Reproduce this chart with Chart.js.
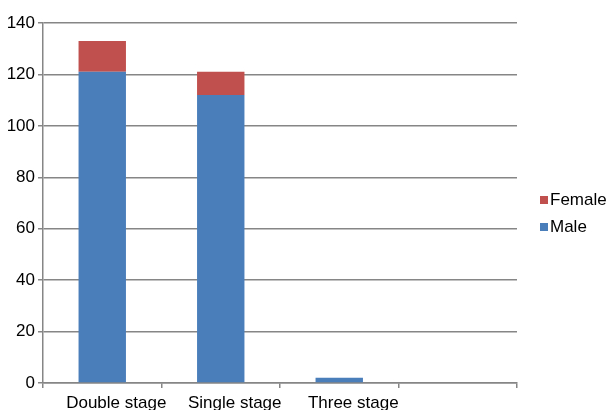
<!DOCTYPE html>
<html><head><meta charset="utf-8">
<script src="https://cdn.jsdelivr.net/npm/chart.js@4"></script>
<style>html,body{margin:0;padding:0;background:#fff}#wrap{width:612px;height:410px}</style>
</head><body><div id="wrap"><canvas id="c" width="612" height="410"></canvas></div>
<script>
const categories = ["Double stage", "Single stage", "Three stage", ""];
const maleValues = [121, 112, 2, null];
const femaleValues = [12, 9, 0, null];
const yTicks = [0, 20, 40, 60, 80, 100, 120, 140];

const FONT = '"Liberation Sans", Arial, sans-serif';

const legendPlugin = {
  id: 'sideLegend',
  afterDraw(chart) {
    const ctx = chart.ctx;
    const items = [chart.data.datasets[1], chart.data.datasets[0]];
    ctx.save();
    ctx.font = '17px ' + FONT;
    ctx.textBaseline = 'middle';
    items.forEach((ds, i) => {
      const y = 200 + i * 27;
      ctx.fillStyle = ds.backgroundColor;
      ctx.fillRect(540, y - 4, 8, 8);
      ctx.fillStyle = '#000';
      ctx.fillText(ds.label, 550, y);
    });
    ctx.restore();
  }
};

new Chart(document.getElementById('c'), {
  type: 'bar',
  data: {
    labels: categories,
    datasets: [
      { label: 'Male', data: maleValues, backgroundColor: '#4a7ebb', categoryPercentage: 1, barPercentage: 0.4 },
      { label: 'Female', data: femaleValues, backgroundColor: '#c0504d', categoryPercentage: 1, barPercentage: 0.4 }
    ]
  },
  options: {
    responsive: false,
    animation: false,
    layout: { padding: { top: 23, right: 95, left: 0, bottom: 0 } },
    plugins: { legend: { display: false }, tooltip: { enabled: false } },
    scales: {
      x: {
        stacked: true,
        afterFit(s) { s.height = 27; },
        border: { display: true, color: '#868686', width: 1.5 },
        grid: { display: true, offset: true, drawOnChartArea: false, drawTicks: true, tickLength: 5, color: '#868686', lineWidth: 1.5 },
        ticks: { color: '#000', font: { size: 17, family: FONT }, padding: 5, labelOffset: 14, maxRotation: 0, autoSkip: false }
      },
      y: {
        stacked: true,
        min: 0, max: 140,
        afterFit(s) { s.width = 43; },
        afterBuildTicks(s) { s.ticks = yTicks.map(v => ({ value: v })); },
        border: { display: true, color: '#868686', width: 1.5 },
        grid: { color: '#868686', lineWidth: 1.5, tickLength: 5 },
        ticks: { color: '#000', font: { size: 17, family: FONT }, padding: 3 }
      }
    }
  },
  plugins: [legendPlugin]
});
</script></body></html>
